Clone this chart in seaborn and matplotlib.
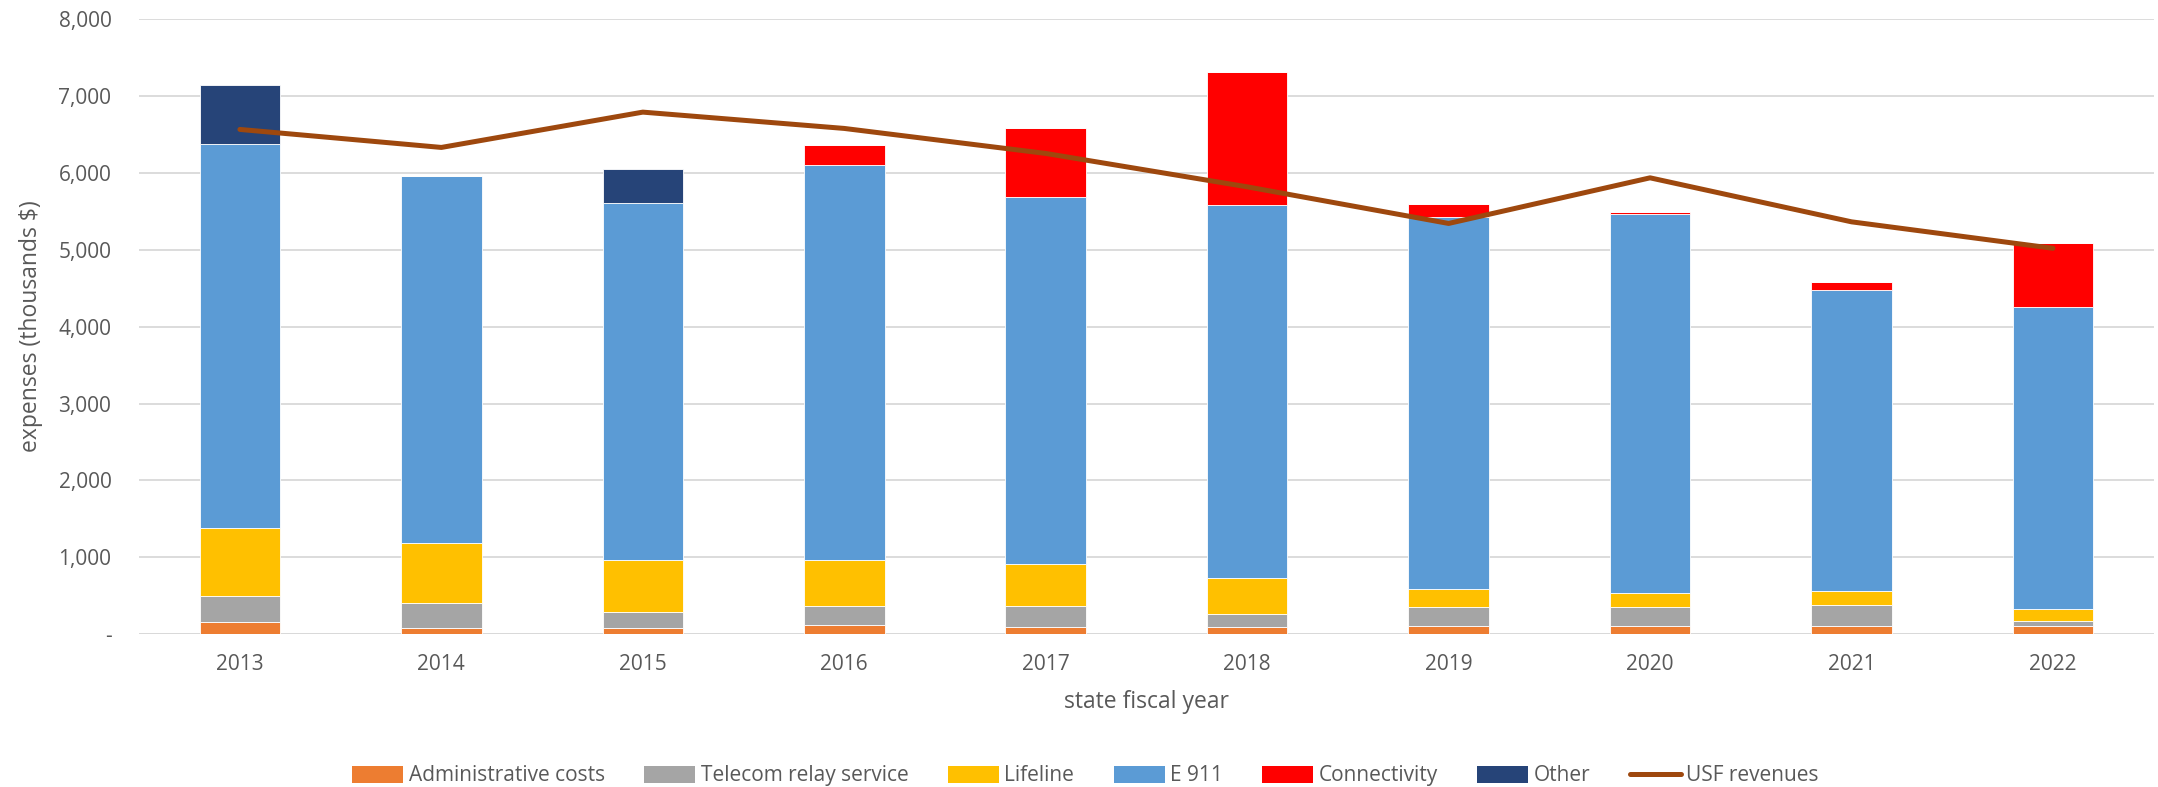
import matplotlib
matplotlib.use("Agg")
import matplotlib.pyplot as plt
from matplotlib.patches import Patch
from matplotlib.lines import Line2D
import numpy as np
import seaborn as sns

# values (thousands $)
years = ["2013", "2014", "2015", "2016", "2017", "2018", "2019", "2020", "2021", "2022"]
admin = [161, 87, 87, 122, 100, 100, 109, 109, 109, 109]
telecom = [339, 326, 204, 243, 265, 170, 252, 243, 278, 69]
lifeline = [886, 769, 670, 596, 552, 456, 226, 191, 174, 152]
e911 = [4986, 4774, 4640, 5138, 4766, 4853, 4836, 4919, 3913, 3930]
connectivity = [0, 0, 0, 264, 893, 1725, 173, 22, 104, 831]
other = [763, 0, 446, 0, 0, 0, 0, 0, 0, 0]
usf_revenues = [6563, 6329, 6788, 6576, 6251, 5817, 5341, 5934, 5362, 5018]

series = [
    ("Administrative costs", admin, "#ED7D31"),
    ("Telecom relay service", telecom, "#A5A5A5"),
    ("Lifeline", lifeline, "#FFC000"),
    ("E 911", e911, "#5B9BD5"),
    ("Connectivity", connectivity, "#FF0000"),
    ("Other", other, "#264478"),
]
line_color = "#9E480E"
text_color = "#595959"

sns.set_theme(style="white")
plt.rcParams["font.family"] = ["Open Sans", "DejaVu Sans"]

fig = plt.figure(figsize=(21.58, 7.87), dpi=100)
ax = fig.add_axes([0.0645, 0.194, 0.9335, 0.782])

bottom = np.zeros(len(years))
for name, vals, col in series:
    sns.barplot(x=years, y=vals, bottom=bottom, color=col, width=0.4,
                errorbar=None, saturation=1, edgecolor="white", linewidth=0.6,
                ax=ax, zorder=3)
    bottom = bottom + np.array(vals)

sns.lineplot(x=np.arange(len(years)), y=usf_revenues, color=line_color,
             linewidth=3.6, ax=ax, zorder=4, solid_capstyle="round")

ax.set_xlim(-0.5, len(years) - 0.5)
ax.set_ylim(0, 8000)
yt = np.arange(0, 8001, 1000)
ax.set_yticks(yt)
ax.set_yticklabels(["-" if v == 0 else f"{v:,}" for v in yt])
ax.yaxis.grid(True, color="#D9D9D9", linewidth=1.3, zorder=0)
ax.set_axisbelow(True)
for s in ["top", "right", "left", "bottom"]:
    ax.spines[s].set_visible(False)
ax.axhline(0, color="#D9D9D9", linewidth=1.3, zorder=2)
ax.tick_params(axis="both", length=0, labelsize=15, colors=text_color)
ax.tick_params(axis="x", pad=14)
ax.tick_params(axis="y", pad=20)

ax.set_xlabel("state fiscal year", fontsize=16.5, color=text_color, labelpad=11)
ax.set_ylabel("expenses (thousands $)", fontsize=16.5, color=text_color, labelpad=11)

handles = [Patch(facecolor=c, edgecolor="none", label=n) for n, _, c in series]
handles.append(Line2D([0], [0], color=line_color, linewidth=3.6, label="USF revenues"))
fig.legend(handles=handles, loc="center", bbox_to_anchor=(0.503, 0.014),
           ncol=7, frameon=False, fontsize=15, labelcolor=text_color,
           handlelength=2.45, handleheight=0.9, columnspacing=1.9, handletextpad=0.25)

fig.savefig("out.png", dpi=100)
